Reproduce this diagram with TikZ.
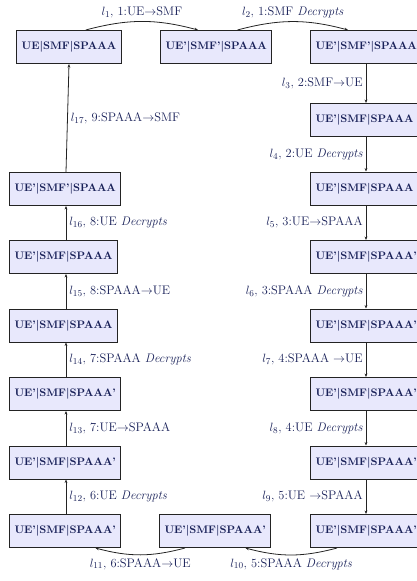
\documentclass[tikz,border=0pt]{standalone}
\usetikzlibrary{arrows.meta}
\definecolor{txt}{RGB}{24,32,88}
\definecolor{boxfill}{RGB}{232,232,252}
\definecolor{edgec}{RGB}{35,35,35}
\begin{document}
\begin{tikzpicture}[x=1pt,y=1pt,
  box/.style={draw=edgec, line width=1pt, fill=boxfill, text=txt,
    font=\fontsize{10.9}{13}\selectfont\bfseries, minimum height=33pt,
    inner xsep=5pt, inner ysep=0pt},
  lab/.style={text=txt, font=\fontsize{12.4}{14}\selectfont, inner sep=3pt},
  arr/.style={draw=edgec, line width=0.8pt, -{Stealth[length=3.5pt,width=2.8pt]}}]
\useasboundingbox (0,0) rectangle (416,-581);
\coordinate (lx) at (66,0);
\coordinate (rx) at (366,0);
% top row
\node[box] (n1) at (69,-47) {UE|SMF|SPAAA};
\node[box, anchor=west] (n2) at (160,-47) {UE'|SMF'|SPAAA};
% right column
\node[box, anchor=west] (r1) at (310,-47) {UE'|SMF'|SPAAA};
\node[box, anchor=west] (r2) at (310,-120) {UE'|SMF|SPAAA};
\node[box, anchor=west] (r3) at (310,-188.5) {UE'|SMF|SPAAA};
\node[box, anchor=west] (r4) at (310,-257) {UE'|SMF|SPAAA'};
\node[box, anchor=west] (r5) at (310,-325.5) {UE'|SMF|SPAAA'};
\node[box, anchor=west] (r6) at (310,-394) {UE'|SMF|SPAAA'};
\node[box, anchor=west] (r7) at (310,-462.5) {UE'|SMF|SPAAA'};
\node[box, anchor=west] (r8) at (310,-531) {UE'|SMF|SPAAA'};
% bottom middle
\node[box, anchor=west] (b) at (159,-531) {UE'|SMF|SPAAA'};
% left column
\node[box, anchor=west] (L1) at (9,-531) {UE'|SMF|SPAAA'};
\node[box, anchor=west] (L2) at (9,-462.5) {UE'|SMF|SPAAA'};
\node[box, anchor=west] (L3) at (9,-394) {UE'|SMF|SPAAA'};
\node[box, anchor=west] (L4) at (9,-325.5) {UE'|SMF|SPAAA};
\node[box, anchor=west] (L5) at (9,-257) {UE'|SMF|SPAAA};
\node[box, anchor=west] (L6) at (9,-189) {UE'|SMF'|SPAAA};
% curved connectors
\draw[arr] ([xshift=-36pt]n1.north east) to[bend left=15]
  node[lab, midway, above] {$l_1$, 1:UE$\rightarrow$SMF} ([xshift=38pt]n2.north west);
\draw[arr] ([xshift=-35pt]n2.north east) to[bend left=15]
  node[lab, midway, above] {$l_2$, 1:SMF \textit{Decrypts}} ([xshift=38pt]r1.north west);
\draw[arr] ([xshift=27pt]r8.south west) to[bend left=15]
  node[lab, midway, below] {$l_{10}$, 5:SPAAA \textit{Decrypts}} ([xshift=-26pt]b.south east);
\draw[arr] ([xshift=26pt]b.south west) to[bend left=15]
  node[lab, midway, below] {$l_{11}$, 6:SPAAA$\rightarrow$UE} ([xshift=-26pt]L1.south east);
% right column connectors
\draw[arr] (r1.south -| rx) -- node[lab, left] {$l_3$, 2:SMF$\rightarrow$UE} (r2.north -| rx);
\draw[arr] (r2.south -| rx) -- node[lab, left] {$l_4$, 2:UE \textit{Decrypts}} (r3.north -| rx);
\draw[arr] (r3.south -| rx) -- node[lab, left] {$l_5$, 3:UE$\rightarrow$SPAAA} (r4.north -| rx);
\draw[arr] (r4.south -| rx) -- node[lab, left] {$l_6$, 3:SPAAA \textit{Decrypts}} (r5.north -| rx);
\draw[arr] (r5.south -| rx) -- node[lab, left] {$l_7$, 4:SPAAA $\rightarrow$UE} (r6.north -| rx);
\draw[arr] (r6.south -| rx) -- node[lab, left] {$l_8$, 4:UE \textit{Decrypts}} (r7.north -| rx);
\draw[arr] (r7.south -| rx) -- node[lab, left] {$l_9$, 5:UE $\rightarrow$SPAAA} (r8.north -| rx);
% left column connectors
\draw[arr] (L1.north -| lx) -- node[lab, right] {$l_{12}$, 6:UE \textit{Decrypts}} (L2.south -| lx);
\draw[arr] (L2.north -| lx) -- node[lab, right] {$l_{13}$, 7:UE$\rightarrow$SPAAA} (L3.south -| lx);
\draw[arr] (L3.north -| lx) -- node[lab, right] {$l_{14}$, 7:SPAAA \textit{Decrypts}} (L4.south -| lx);
\draw[arr] (L4.north -| lx) -- node[lab, right] {$l_{15}$, 8:SPAAA$\rightarrow$UE} (L5.south -| lx);
\draw[arr] (L5.north -| lx) -- node[lab, right] {$l_{16}$, 8:UE \textit{Decrypts}} (L6.south -| lx);
\draw[arr] (L6.north -| lx) -- node[lab, right] {$l_{17}$, 9:SPAAA$\rightarrow$SMF} (n1.south);
\end{tikzpicture}
\end{document}
